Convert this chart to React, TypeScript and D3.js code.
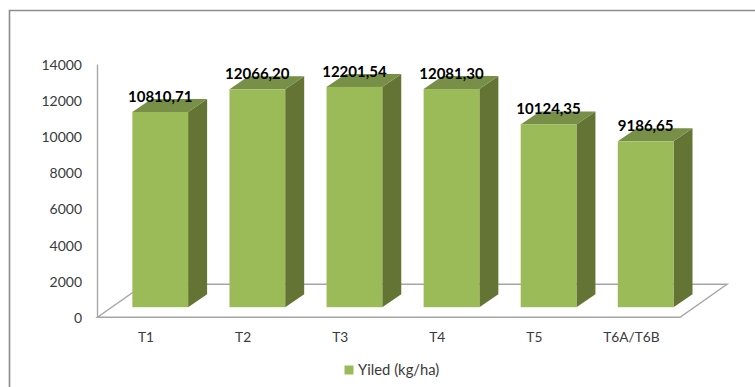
import React from "react";
import * as d3 from "d3";

const categories = ["T1", "T2", "T3", "T4", "T5", "T6A/T6B"];
const yields = [10810.71, 12066.2, 12201.54, 12081.3, 10124.35, 9186.65];
const valueLabels = ["10810,71", "12066,20", "12201,54", "12081,30", "10124,35", "9186,65"];
const yTicks = [0, 2000, 4000, 6000, 8000, 10000, 12000, 14000];
const legendLabel = "Yiled (kg/ha)";

const W = 755;
const H = 387;
const FONT = "Lato, 'Open Sans', sans-serif";
const FRONT = "#9bbb59";
const SIDE = "#647434";
const TOP = "#778f46";
const AXIS = "#a6a6a6";
const TEXT = "#3a3a3a";

// Oblique projection: floor depth, plus the inset of the bars from the front edge.
const FLOOR_DX = 47;
const FLOOR_DY = 33;
const BAR_DX = 19;
const BAR_DY = 13;
const INSET_X = 14.2;
const INSET_Y = 10.1;

const x = d3.scaleBand<string>().domain(categories).range([97.5, 680]).paddingInner(0.426).paddingOuter(0.213);
const yAxis = d3.scaleLinear().domain([0, 14000]).range([317.3, 64.5]);
const yBar = (v: number) => yAxis(v) - INSET_Y;

const poly = (pts: [number, number][]) => d3.line()(pts) + "Z";

export default function App() {
  const left = x.range()[0];
  const right = x.range()[1];
  const base = yAxis(0);
  const w = x.bandwidth();
  return (
    <svg width={W} height={H} style={{ position: "absolute", left: 0, top: 0, background: "#fff" }} fontFamily={FONT}>
      {/* outer chart frame, cut off by the right and bottom edges */}
      <path d={`M9.5,${H}V10.5H${W}`} fill="none" stroke="#8c8c8c" strokeWidth={1.6} />

      {/* floor and value axis */}
      <path
        d={poly([[left, base], [right, base], [right + FLOOR_DX, base - FLOOR_DY], [left + FLOOR_DX, base - FLOOR_DY]])}
        fill="none"
        stroke={AXIS}
        strokeWidth={1.4}
      />
      <line x1={left} x2={left} y1={yAxis(14000)} y2={base} stroke={AXIS} strokeWidth={1.4} />

      {yTicks.map((t) => (
        <text key={t} x={82} y={yAxis(t) + 0.4} dy="0.36em" textAnchor="end" fontSize={14} fill={TEXT}>
          {t}
        </text>
      ))}

      {categories.map((c, i) => {
        const x0 = x(c)! + INSET_X;
        const x1 = x0 + w;
        const yb = yBar(0);
        const yt = yBar(yields[i]);
        return (
          <g key={c}>
            <path d={poly([[x1, yt], [x1 + BAR_DX, yt - BAR_DY], [x1 + BAR_DX, yb - BAR_DY], [x1, yb]])} fill={SIDE} />
            <path d={poly([[x0, yt], [x1, yt], [x1 + BAR_DX, yt - BAR_DY], [x0 + BAR_DX, yt - BAR_DY]])} fill={TOP} />
            <rect x={x0} y={yt} width={w} height={yb - yt} fill={FRONT} />
          </g>
        );
      })}

      {categories.map((c) => (
        <text key={c} x={x(c)! + w / 2} y={337} dy="0.36em" textAnchor="middle" fontSize={13.7} fill={TEXT}>
          {c}
        </text>
      ))}

      {categories.map((c, i) => (
        <text
          key={c}
          x={x(c)! + INSET_X + w / 2}
          y={yBar(yields[i]) - 15.5}
          dy="0.36em"
          textAnchor="middle"
          fontSize={15}
          fontWeight={700}
          fill="#000"
        >
          {valueLabels[i]}
        </text>
      ))}

      {/* legend */}
      <rect x={344.5} y={365.5} width={9} height={9} fill={FRONT} />
      <text x={358} y={370} dy="0.36em" fontSize={14.8} fill={TEXT}>
        {legendLabel}
      </text>
    </svg>
  );
}
